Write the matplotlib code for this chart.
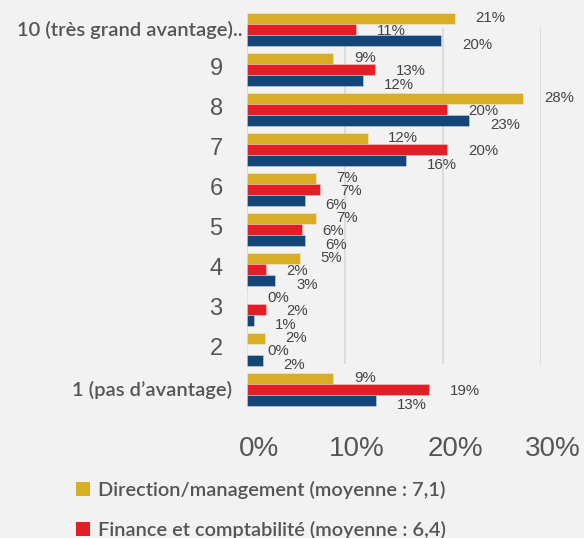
import matplotlib.pyplot as plt
from matplotlib.patches import Patch
from matplotlib.transforms import ScaledTranslation
import numpy as np

categories = ["10 (très grand avantage)..", "9", "8", "7", "6", "5", "4", "3", "2", "1 (pas d\u2019avantage)"]
direction = [21.2, 8.8, 28.2, 12.3, 7.0, 7.0, 5.4, 0.0, 1.8, 8.8]   # Direction/management
finance = [11.1, 13.1, 20.4, 20.4, 7.4, 5.6, 1.9, 1.9, 0.0, 18.6]   # Finance et comptabilité
autre = [19.8, 11.8, 22.7, 16.2, 5.9, 5.9, 2.9, 0.7, 1.6, 13.2]     # 3e série (légende coupée)
series_labels = ["Direction/management (moyenne : 7,1)",
                 "Finance et comptabilité (moyenne : 6,4)"]
xticks = [0, 10, 20, 30]

gold = "#d9ae27"
red = "#e31e27"
navy = "#134677"
bg = "#f2f2f2"
txt = "#555555"

fig = plt.figure(figsize=(5.84, 5.38), dpi=100)
fig.patch.set_facecolor(bg)
ax = fig.add_axes([247/584, 1 - 413.5/538, 294/584, 408/538])
ax.set_facecolor(bg)

y = np.arange(len(categories))
h = 0.283
for k, (vals, col) in enumerate([(direction, gold), (finance, red), (autre, navy)]):
    ax.barh(y + (k - 1) * h, vals, height=h, color=col,
            edgecolor=(1, 1, 1, 0.35), linewidth=0.6, zorder=3)
    dy = [0, -1.3, -2.8][k]
    for yi, v in zip(y, vals):
        ax.annotate(f"{round(v):d}%", xy=(v, yi + (k - 1) * h),
                    xytext=(15, dy), textcoords="offset points",
                    ha="left", va="center", fontsize=10.8, color="#444444",
                    family="Liberation Sans", annotation_clip=False, zorder=4)

ax.set_xlim(0, 30)
ax.set_ylim(len(categories) - 0.4, -0.6)
ax.vlines(xticks, -0.04, 8.36, color="#d8d8d8", linewidth=1.2, zorder=1)

for s in ax.spines.values():
    s.set_visible(False)

ax.set_xticks(xticks)
ax.set_xticklabels([f"{t}%" for t in xticks], fontsize=20, color=txt,
                   family="Liberation Sans")
ax.tick_params(axis="x", length=0, pad=16)
for lab in ax.get_xticklabels():
    lab.set_transform(lab.get_transform() + ScaledTranslation(0.12, 0, fig.dpi_scale_trans))

ax.set_yticks([])
for yi, cat in enumerate(categories):
    if len(cat) <= 2:
        ax.annotate(cat, xy=(0, yi), xycoords=("axes fraction", "data"),
                    xytext=(-17.5, 0), textcoords="offset points",
                    ha="right", va="center", fontsize=17, color=txt,
                    family="Liberation Sans")
    else:
        pad = 3 if yi == 0 else 11
        ax.annotate(cat, xy=(0, yi), xycoords=("axes fraction", "data"),
                    xytext=(-pad, 0), textcoords="offset points",
                    ha="right", va="center", fontsize=14.5, color=txt,
                    family="Lato", fontweight="semibold")

handles = [Patch(facecolor=gold), Patch(facecolor=red)]
leg = fig.legend(handles, series_labels, loc="upper left",
                 bbox_to_anchor=(66/584, 1 - 471/538), frameon=False,
                 handlelength=0.7, handleheight=0.7, handletextpad=0.4,
                 labelspacing=1.08, borderpad=0,
                 prop={"family": "Lato", "size": 14.4, "weight": "semibold"})
for t in leg.get_texts():
    t.set_color(txt)

fig.savefig("out.png", dpi=100, facecolor=bg)
